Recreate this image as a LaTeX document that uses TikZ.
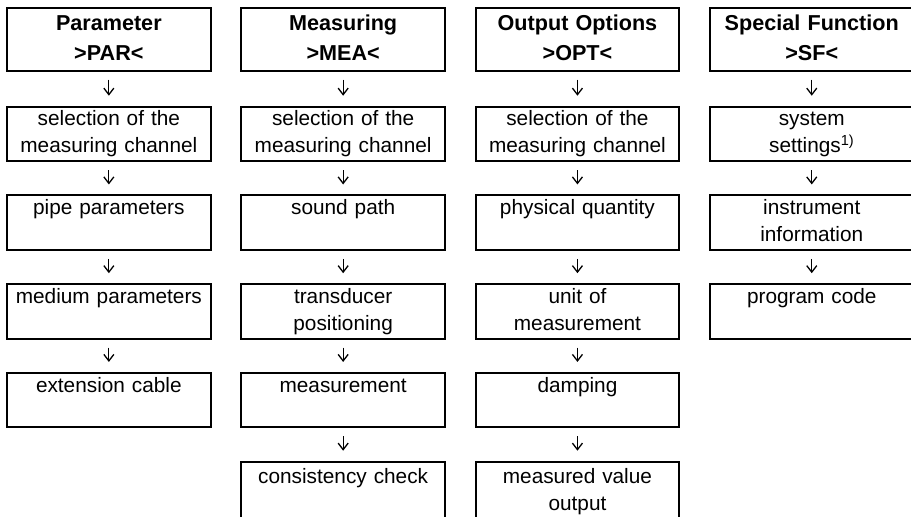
\documentclass[tikz,border=0pt]{standalone}
\usepackage{fontspec}
\setmainfont{Liberation Sans}
\usetikzlibrary{arrows.meta}
\begin{document}
\begin{tikzpicture}[x=1pt,y=-1pt,
  box/.style={draw,line width=2pt,minimum width=203.7pt,minimum height=54.5pt,inner sep=0pt,
    align=center,text width=200pt,font=\fontsize{20.8}{26.7}\selectfont},
  headbox/.style={box,minimum height=62.4pt,font=\fontsize{21.6}{30}\selectfont\bfseries},
  lastbox/.style={box,minimum height=60pt,anchor=north},
  arr/.style={line width=1pt,-{Straight Barb[length=6.5pt,width=10pt,line width=1.3pt]},
    shorten <=8pt,shorten >=10pt}]
\useasboundingbox (0,0) rectangle (911,517);
\clip (0,0) rectangle (911,517);
% column 1
\node[headbox] (h1) at (108.85,39.5) {\strut Parameter\\>PAR<\strut};
\node[box] (a2) at (108.85,133.95) {\strut selection of the\\measuring channel\strut};
\node[box] (a3) at (108.85,222.7) {\strut pipe parameters\\\strut};
\node[box] (a4) at (108.85,311.45) {\strut medium parameters\\\strut};
\node[box] (a5) at (108.85,400.2) {\strut extension cable\\\strut};
% column 2
\node[headbox] (h2) at (343.15,39.5) {\strut Measuring\\>MEA<\strut};
\node[box] (b2) at (343.15,133.95) {\strut selection of the\\measuring channel\strut};
\node[box] (b3) at (343.15,222.7) {\strut sound path\\\strut};
\node[box] (b4) at (343.15,311.45) {\strut transducer\\positioning\strut};
\node[box] (b5) at (343.15,400.2) {\strut measurement\\\strut};
\node[lastbox] (b6) at (343.15,460.7) {\strut consistency check\\\strut};
% column 3
\node[headbox] (h3) at (577.45,39.5) {\strut Output Options\\>OPT<\strut};
\node[box] (c2) at (577.45,133.95) {\strut selection of the\\measuring channel\strut};
\node[box] (c3) at (577.45,222.7) {\strut physical quantity\\\strut};
\node[box] (c4) at (577.45,311.45) {\strut unit of\\measurement\strut};
\node[box] (c5) at (577.45,400.2) {\strut damping\\\strut};
\node[lastbox] (c6) at (577.45,460.7) {\strut measured value\\output\strut};
% column 4
\node[headbox] (h4) at (811.75,39.5) {\strut Special Function\\>SF<\strut};
\node[box] (d2) at (811.75,133.95) {\strut system\\settings\textsuperscript{1)}\strut};
\node[box] (d3) at (811.75,222.7) {\strut instrument\\information\strut};
\node[box] (d4) at (811.75,311.45) {\strut program code\\\strut};
% connectors
\draw[arr] (h1) -- (a2);
\draw[arr] (a2) -- (a3);
\draw[arr] (a3) -- (a4);
\draw[arr] (a4) -- (a5);
\draw[arr] (h2) -- (b2);
\draw[arr] (b2) -- (b3);
\draw[arr] (b3) -- (b4);
\draw[arr] (b4) -- (b5);
\draw[arr] (b5) -- (b6);
\draw[arr] (h3) -- (c2);
\draw[arr] (c2) -- (c3);
\draw[arr] (c3) -- (c4);
\draw[arr] (c4) -- (c5);
\draw[arr] (c5) -- (c6);
\draw[arr] (h4) -- (d2);
\draw[arr] (d2) -- (d3);
\draw[arr] (d3) -- (d4);
\end{tikzpicture}
\end{document}
